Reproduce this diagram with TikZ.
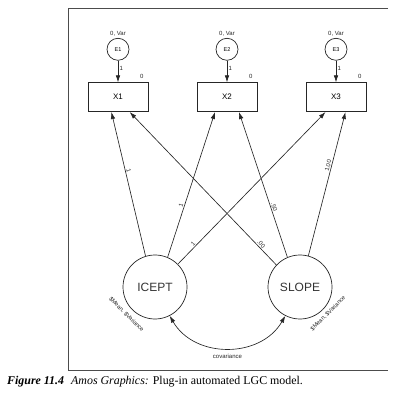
\documentclass[tikz,border=0pt]{standalone}
\usepackage{fontspec}
\setmainfont{Liberation Serif}
\newfontfamily\arial{Liberation Sans}
\usetikzlibrary{arrows.meta,calc}
\tikzset{
  lat/.style={circle,draw=black!85,line width=0.7pt,minimum size=64pt,inner sep=0pt,font=\arial\fontsize{12}{12}\selectfont,text=black!80},
  err/.style={circle,draw=black!85,line width=0.7pt,minimum size=22pt,inner sep=0pt,font=\arial\fontsize{5.5}{6}\selectfont},
  obs/.style={rectangle,draw=black!85,line width=0.7pt,minimum width=60pt,minimum height=29pt,inner sep=0pt,font=\arial\fontsize{8}{9}\selectfont},
  small/.style={font=\arial\fontsize{6}{7}\selectfont,text=black!85,inner sep=1pt},
  tiny/.style={font=\arial\fontsize{5.8}{6}\selectfont,text=black!85,inner sep=0pt},
  path/.style={draw=black!85,line width=0.65pt,-{Latex[length=7pt,width=4.5pt]}},
  cov/.style={draw=black!85,line width=0.65pt,{Latex[length=7pt,width=4.5pt]}-{Latex[length=7pt,width=4.5pt]}},
  lbl/.style={small,sloped,above}
}
\begin{document}
\begin{tikzpicture}[x=1pt,y=1pt]
\useasboundingbox (0,0) rectangle (406,404);
% frame
\draw[black!70,line width=0.8pt] (388,396) -- (68,396) -- (68,34) -- (388,34);
% error terms
\node[err] (E1) at (118,354.7) {E1};
\node[err] (E2) at (227,354.7) {E2};
\node[err] (E3) at (336,354.7) {E3};
\node[small,above=0.5pt] (v1) at (E1.north) {0, Var};
\node[small,above=0.5pt] (v2) at (E2.north) {0, Var};
\node[small,above=0.5pt] (v3) at (E3.north) {0, Var};
% observed
\node[obs] (X1) at (118,306.8) {X1};
\node[obs] (X2) at (227,306.8) {X2};
\node[obs] (X3) at (336,306.8) {X3};
\node[small] (z1) at ($(X1.north east)+(-6.6,6)$) {0};
\node[small] (z2) at ($(X2.north east)+(-6.6,6)$) {0};
\node[small] (z3) at ($(X3.north east)+(-6.6,6)$) {0};
\draw[path] (E1) -- (X1) node[small,pos=0.38,right=0.3pt] {1};
\draw[path] (E2) -- (X2) node[small,pos=0.38,right=0.3pt] {1};
\draw[path] (E3) -- (X3) node[small,pos=0.38,right=0.3pt] {1};
% latent
\node[lat] (IC) at (155,117) {ICEPT};
\node[lat] (SL) at (300,117) {SLOPE};
% loadings
\draw[path] (IC.107) -- ($(X1.south)+(-6.6,0)$) node[lbl,pos=0.59] {1};
\draw[path] (IC.67) -- ($(X2.south)+(-12,0)$) node[lbl,pos=0.35] {1};
\draw[path] (IC.45) -- ($(X3.south)+(-10.5,0)$) node[lbl,pos=0.12] {1};
\draw[path] (SL.137) -- ($(X1.south)+(11.7,0)$) node[lbl,pos=0.12] {.00};
\draw[path] (SL.113) -- ($(X2.south)+(12,0)$) node[lbl,pos=0.34] {.50};
\draw[path] (SL.75) -- ($(X3.south)+(9.5,0)$) node[lbl,pos=0.62] {1.00};
% covariance
\draw[cov] (IC.-63) to[out=-60,in=-120,looseness=1.1] (SL.-117);
\node[small] (cv) at (227.5,47.3) {covariance};
% means/variances
\node[tiny,rotate=-45] (m1) at (126.5,89.5) {\$Mean, \$Variance};
\node[tiny,rotate=45] (m2) at (328,90.5) {\$Mean, \$Variance};
% caption
\node[anchor=west,inner sep=0pt,font=\fontsize{11.9}{13}\selectfont] (cap) at (7,22.3)
  {\textbf{\textit{Figure 11.4}}\hspace{0.6em}\textit{Amos Graphics:} Plug-in automated LGC model.};
\end{tikzpicture}
\end{document}
